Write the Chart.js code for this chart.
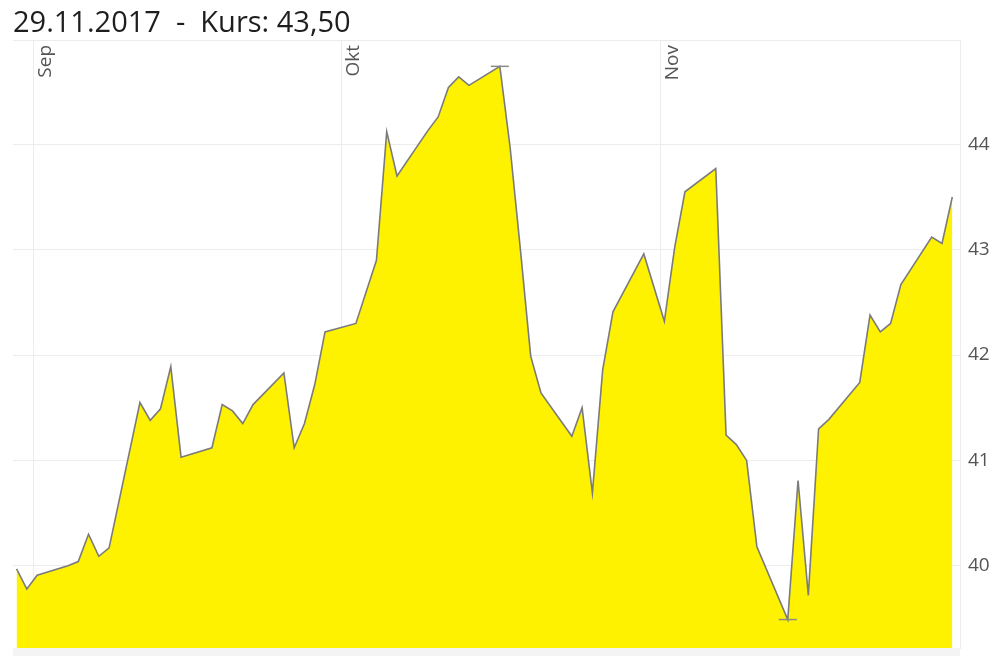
<!DOCTYPE html>
<html><head><meta charset="utf-8">
<script src="https://cdn.jsdelivr.net/npm/chart.js@4/dist/chart.umd.min.js"></script>
<style>html,body{margin:0;padding:0;background:#fff;overflow:hidden}</style>
</head><body>
<canvas id="c" width="999" height="656"></canvas>
<script>
// ---- data ----
const titleText = '29.11.2017  -  Kurs: 43,50';
const dates = [
 '2017-08-30','2017-08-31','2017-09-01','2017-09-04','2017-09-05','2017-09-06','2017-09-07','2017-09-08',
 '2017-09-11','2017-09-12','2017-09-13','2017-09-14','2017-09-15','2017-09-18','2017-09-19','2017-09-20',
 '2017-09-21','2017-09-22','2017-09-25','2017-09-26','2017-09-27','2017-09-28','2017-09-29','2017-10-02',
 '2017-10-04','2017-10-05','2017-10-06','2017-10-09','2017-10-10','2017-10-11','2017-10-12','2017-10-13',
 '2017-10-16','2017-10-17','2017-10-18','2017-10-19','2017-10-20','2017-10-23','2017-10-24','2017-10-25',
 '2017-10-26','2017-10-27','2017-10-30','2017-11-01','2017-11-02','2017-11-03','2017-11-06','2017-11-07',
 '2017-11-08','2017-11-09','2017-11-10','2017-11-13','2017-11-14','2017-11-15','2017-11-16','2017-11-17',
 '2017-11-20','2017-11-21','2017-11-22','2017-11-23','2017-11-24','2017-11-27','2017-11-28','2017-11-29'
];
const prices = [
 39.97,39.78,39.91,40.00,40.04,40.30,40.09,40.17,
 41.55,41.38,41.49,41.89,41.03,41.12,41.53,41.47,
 41.35,41.53,41.83,41.12,41.35,41.72,42.22,42.30,
 42.90,44.12,43.70,44.13,44.26,44.54,44.64,44.56,
 44.74,43.97,43.00,41.99,41.64,41.23,41.50,40.69,
 41.86,42.41,42.96,42.32,43.02,43.55,43.77,41.24,
 41.15,41.00,40.18,39.49,40.81,39.72,41.30,41.39,
 41.74,42.38,42.22,42.30,42.67,43.12,43.06,43.50
];
const monthStarts = ['2017-09-01','2017-10-01','2017-11-01'];
const monthLabels = ['Sep','Okt','Nov'];
const yTicks = [40,41,42,43,44];

// ---- helpers ----
const BASE = Date.UTC(2017,8,1);
function dayNum(s){const p=s.split('-').map(Number);return (Date.UTC(p[0],p[1]-1,p[2])-BASE)/864e5;}
const QUOTE_TIME = 0.4; // fraction of day of the quote
const points = dates.map((d,i)=>({x:dayNum(d)+QUOTE_TIME,y:prices[i]}));
const iMax = prices.indexOf(Math.max(...prices));
const iMin = prices.indexOf(Math.min(...prices));
const radii = prices.map((v,i)=>(i===iMax||i===iMin)?9:0);

const FONT = "'Open Sans', 'DejaVu Sans', sans-serif";
const GRID = '#ececec';

const decor = {
  id:'decor',
  beforeDraw(chart){
    const {ctx, chartArea:a} = chart;
    ctx.save();
    ctx.fillStyle = '#f4f4f4';
    ctx.fillRect(a.left, a.bottom, a.right - a.left, chart.height - a.bottom);
    ctx.fillStyle = '#1e1e1e';
    ctx.font = "29px " + FONT;
    ctx.textBaseline = 'alphabetic';
    ctx.textAlign = 'left';
    ctx.fillText(titleText, 13, 32);
    ctx.restore();
  },
  afterDraw(chart){
    const {ctx, chartArea:a} = chart;
    const xs = chart.scales.x;
    ctx.save();
    ctx.fillStyle = '#555';
    ctx.font = "19px " + FONT;
    monthStarts.forEach((m,i)=>{
      const px = xs.getPixelForValue(dayNum(m));
      ctx.save();
      ctx.translate(px + 3, a.top + 5);
      ctx.rotate(-Math.PI/2);
      ctx.textAlign = 'right';
      ctx.textBaseline = 'top';
      ctx.fillText(monthLabels[i], 0, 0);
      ctx.restore();
    });
    ctx.restore();
  }
};

new Chart(document.getElementById('c'), {
  type:'line',
  data:{datasets:[{
    data: points,
    borderColor:'#7b7b7b',
    borderWidth:1.6,
    backgroundColor:'#fff200',
    fill:'start',
    tension:0,
    pointStyle:'line',
    pointRadius: radii,
    pointHoverRadius: radii,
    pointBorderColor:'#8a8a8a',
    pointBorderWidth:1.5
  }]},
  options:{
    responsive:false,
    animation:false,
    devicePixelRatio:1,
    layout:{padding:{left:13, top:40, right:0, bottom:8}},
    plugins:{legend:{display:false}, tooltip:{enabled:false}, title:{display:false}},
    scales:{
      x:{
        type:'linear', position:'top',
        min:-1.945, max:90.15,
        afterBuildTicks(s){ s.ticks = monthStarts.map(m=>({value:dayNum(m)})); },
        afterFit(s){ s.height = 0; s.paddingLeft = 0; s.paddingRight = 0; },
        ticks:{display:false},
        grid:{color:GRID, drawTicks:false, lineWidth:1},
        border:{display:true, color:GRID}
      },
      y:{
        type:'linear', position:'right',
        min:39.22, max:44.99,
        afterBuildTicks(s){ s.ticks = yTicks.map(v=>({value:v})); },
        afterFit(s){ s.width = 39; s.paddingTop = 0; s.paddingBottom = 0; },
        ticks:{color:'#555', font:{family:FONT, size:19}, padding:8, callback:v=>String(v)},
        grid:{color:GRID, drawTicks:false, lineWidth:1},
        border:{display:true, color:GRID}
      }
    }
  },
  plugins:[decor]
});
</script>
</body></html>
